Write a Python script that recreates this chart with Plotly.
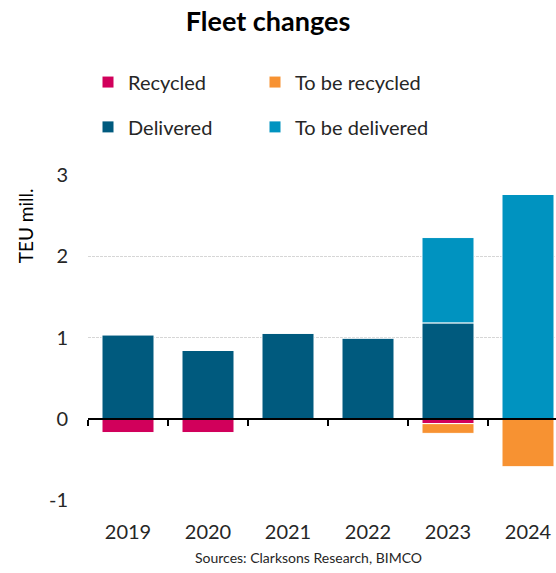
import plotly.graph_objects as go

years = ["2019", "2020", "2021", "2022", "2023", "2024"]
recycled = [-0.17, -0.17, None, None, -0.06, None]
to_be_recycled = [None, None, None, None, -0.12, -0.59]
delivered = [1.03, 0.84, 1.05, 0.99, 1.18, None]
to_be_delivered = [None, None, None, None, 1.05, 2.76]
y_ticks = [-1, 0, 1, 2, 3]

C_REC = "#D1005B"
C_TBR = "#F79232"
C_DEL = "#005A7E"
C_TBD = "#0093C0"
FONT = "Lato"
TXT = "#262626"

fig = go.Figure()
line = dict(color="white", width=1)
fig.add_trace(go.Bar(x=years, y=recycled, name="Recycled", marker=dict(color=C_REC, line=line), legend="legend"))
fig.add_trace(go.Bar(x=years, y=to_be_recycled, name="To be recycled", marker=dict(color=C_TBR, line=line), legend="legend2"))
fig.add_trace(go.Bar(x=years, y=delivered, name="Delivered", marker=dict(color=C_DEL, line=line), legend="legend3"))
fig.add_trace(go.Bar(x=years, y=to_be_delivered, name="To be delivered", marker=dict(color=C_TBD, line=line), legend="legend4"))
# carrier for the zero-line axis with boundary ticks
fig.add_trace(go.Scatter(x=[], y=[], xaxis="x2", showlegend=False, hoverinfo="skip"))

legend_common = dict(
    orientation="v", xanchor="left", yanchor="middle",
    font=dict(family=FONT, size=20, color=TXT),
    bgcolor="rgba(0,0,0,0)",
)
COL1, COL2 = 0.0, (295 - 128) / 468
ROW1, ROW2 = 1.286, 1.148

fig.update_layout(
    width=556, height=573,
    margin=dict(l=88, r=0, t=175, b=73),
    paper_bgcolor="white", plot_bgcolor="white",
    barmode="relative", bargap=0.35,
    font=dict(family=FONT, color=TXT),
    title=dict(text="<b>Fleet changes</b>", xref="container", x=0.482, xanchor="center",
               yref="container", y=0.962, yanchor="middle",
               font=dict(family=FONT, size=27, color="#000000")),
    legend=dict(x=COL1, y=ROW1, **legend_common),
    legend2=dict(x=COL2, y=ROW1, **legend_common),
    legend3=dict(x=COL1, y=ROW2, **legend_common),
    legend4=dict(x=COL2, y=ROW2, **legend_common),
    xaxis=dict(type="category", range=[-0.5, 5.35], showgrid=False, zeroline=False,
               showline=False, ticks="outside", ticklen=14, tickcolor="rgba(0,0,0,0)",
               tickfont=dict(family=FONT, size=20, color=TXT)),
    xaxis2=dict(overlaying="x", anchor="free", position=0.25, range=[-0.5, 5.35],
                showgrid=False, zeroline=False, showline=True, linecolor="black", linewidth=2,
                ticks="outside", ticklen=6, tickwidth=2, tickcolor="black",
                tickvals=[-0.5, 0.5, 1.5, 2.5, 3.5, 4.5], showticklabels=False),
    yaxis=dict(range=[-1, 3], tickvals=y_ticks, ticktext=[str(v) for v in y_ticks],
               showgrid=True, gridcolor="#D6D6D6", griddash="3px,1px", gridwidth=1,
               zeroline=False, showline=False, ticks="outside", ticklen=15,
               tickcolor="rgba(0,0,0,0)", tickfont=dict(family=FONT, size=20, color=TXT)),
    showlegend=True,
)

fig.add_annotation(text="TEU mill.", textangle=-90, xref="paper", yref="y",
                   x=(25 - 88) / 468, y=2.37, xanchor="center", yanchor="middle", showarrow=False,
                   font=dict(family=FONT, size=19, color="#000000"))
fig.add_annotation(text="Sources: Clarksons Research, BIMCO", xref="paper", yref="paper",
                   x=(308 - 88) / 468, y=-(557 - 500) / 325, xanchor="center", yanchor="middle",
                   showarrow=False, font=dict(family=FONT, size=14, color=TXT))

fig.write_html("out.html", config={"displayModeBar": False},
               post_script="document.body.style.margin='0';document.body.style.overflow='hidden';")
